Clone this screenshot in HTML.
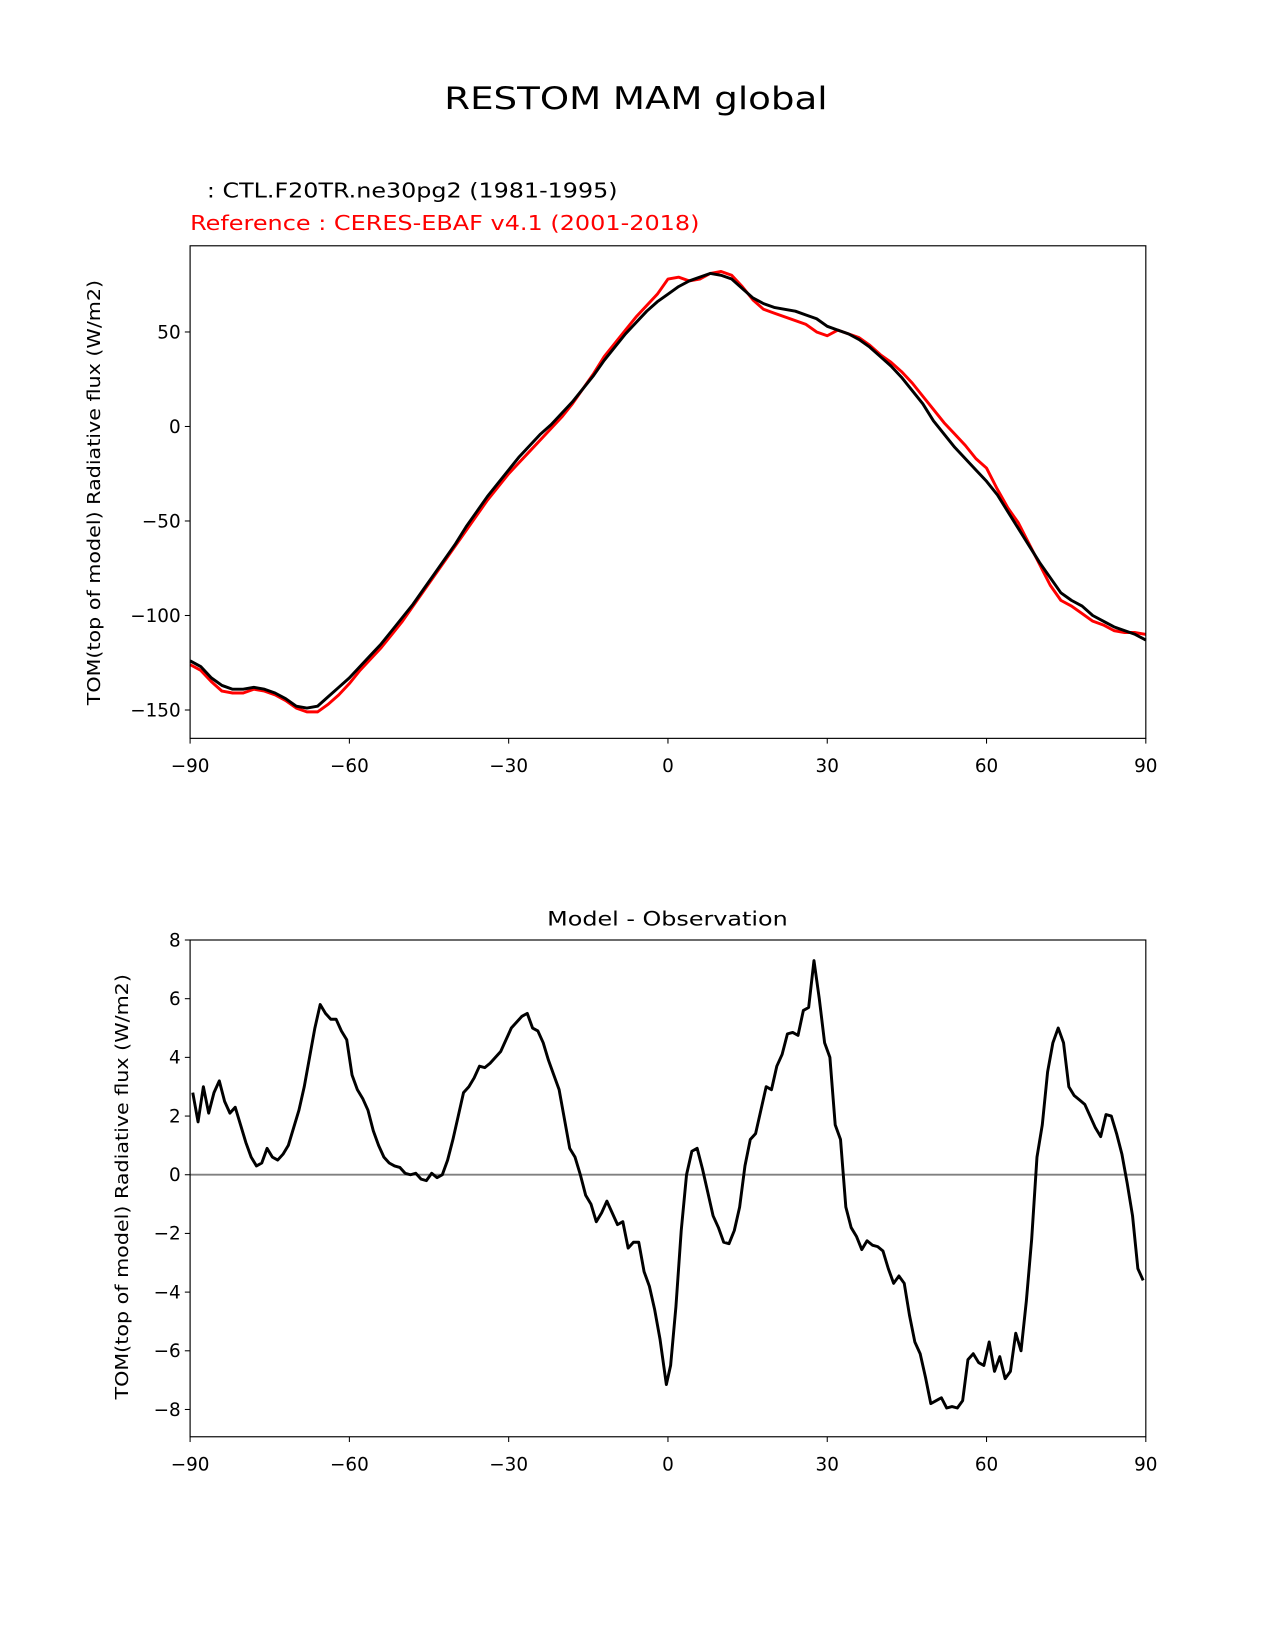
<!DOCTYPE html>
<html><head><meta charset="utf-8"><style>
html,body{margin:0;padding:0;background:#fff}
svg{display:block;font-family:"DejaVu Sans","Liberation Sans",sans-serif}
</style></head><body>
<svg id="fig" width="1275" height="1650" viewBox="0 0 1214 1571" xmlns="http://www.w3.org/2000/svg">
<rect width="1214" height="1571" fill="#fff"/>
<text x="423" y="104" font-size="30" textLength="365" lengthAdjust="spacingAndGlyphs">RESTOM MAM global</text>
<text x="197" y="188" font-size="19.5" textLength="391" lengthAdjust="spacingAndGlyphs">: CTL.F20TR.ne30pg2 (1981-1995)</text>
<text x="181" y="219" font-size="19.5" fill="#ff0000" textLength="485" lengthAdjust="spacingAndGlyphs">Reference : CERES-EBAF v4.1 (2001-2018)</text>
<text transform="translate(95,469) rotate(-90)" font-size="16.5" text-anchor="middle" textLength="405" lengthAdjust="spacingAndGlyphs">TOM(top of model) Radiative flux (W/m2)</text>
<text x="521" y="881" font-size="19" textLength="229" lengthAdjust="spacingAndGlyphs">Model - Observation</text>
<text transform="translate(122,1130) rotate(-90)" font-size="16.5" text-anchor="middle" textLength="405" lengthAdjust="spacingAndGlyphs">TOM(top of model) Radiative flux (W/m2)</text>
<g id="top"></g>
<g id="bot"></g>
</svg>
<script>
const topLat = [-90,-88,-86,-84,-82,-80,-78,-76,-74,-72,-70,-68,-66,-64,-62,-60,-58,-56,-54,-52,-50,-48,-46,-44,-42,-40,-38,-36,-34,-32,-30,-28,-26,-24,-22,-20,-18,-16,-14,-12,-10,-8,-6,-4,-2,0,2,4,6,8,10,12,14,16,18,20,22,24,26,28,30,32,34,36,38,40,42,44,46,48,50,52,54,56,58,60,62,64,66,68,70,72,74,76,78,80,82,84,86,88,90];
const modelVals = [-124,-127,-133,-137,-139,-139,-138,-139,-141,-144,-148,-149,-148,-143,-138,-133,-127,-121,-115,-108,-101,-94,-86,-78,-70,-62,-53,-45,-37,-30,-23,-16,-10,-4,1,7,13,20,27,35,42,49,55,61,66,70,74,77,79,81,80,78,73,68,65,63,62,61,59,57,53,51,49,46,42,37,32,26,19,12,3,-4,-11,-17,-23,-29,-36,-45,-54,-63,-72,-80,-88,-92,-95,-100,-103,-106,-108,-110,-113];
const obsVals = [-126,-129,-135,-140,-141,-141,-139,-140,-142,-145,-149,-151,-151,-147,-142,-136,-129,-123,-117,-110,-103,-95,-87,-79,-71,-63,-55,-47,-39,-32,-25,-19,-13,-7,-1,5,12,20,28,37,44,51,58,64,70,78,79,77,78,81,82,80,74,67,62,60,58,56,54,50,48,51,49,47,43,38,34,29,23,16,9,2,-4,-10,-17,-22,-33,-43,-51,-62,-73,-84,-92,-95,-99,-103,-105,-108,-109,-109,-110];
const topYTicks = [50,0,-50,-100,-150];
const topYLabels = ["50","0","\u221250","\u2212100","\u2212150"];
const xTicks = [-90,-60,-30,0,30,60,90];
const xLabels = ["\u221290","\u221260","\u221230","0","30","60","90"];
const diffLat = [-89.5,-88.5,-87.5,-86.5,-85.5,-84.5,-83.5,-82.5,-81.5,-80.5,-79.5,-78.5,-77.5,-76.5,-75.5,-74.5,-73.5,-72.5,-71.5,-70.5,-69.5,-68.5,-67.5,-66.5,-65.5,-64.5,-63.5,-62.5,-61.5,-60.5,-59.5,-58.5,-57.5,-56.5,-55.5,-54.5,-53.5,-52.5,-51.5,-50.5,-49.5,-48.5,-47.5,-46.5,-45.5,-44.5,-43.5,-42.5,-41.5,-40.5,-39.5,-38.5,-37.5,-36.5,-35.5,-34.5,-33.5,-32.5,-31.5,-30.5,-29.5,-28.5,-27.5,-26.5,-25.5,-24.5,-23.5,-22.5,-21.5,-20.5,-19.5,-18.5,-17.5,-16.5,-15.5,-14.5,-13.5,-12.5,-11.5,-10.5,-9.5,-8.5,-7.5,-6.5,-5.5,-4.5,-3.5,-2.5,-1.5,-0.3,0.5,1.5,2.5,3.5,4.5,5.5,6.5,7.5,8.5,9.5,10.5,11.5,12.5,13.5,14.5,15.5,16.5,17.5,18.5,19.5,20.5,21.5,22.5,23.5,24.5,25.5,26.5,27.5,28.5,29.5,30.5,31.5,32.5,33.5,34.5,35.5,36.5,37.5,38.5,39.5,40.5,41.5,42.5,43.5,44.5,45.5,46.5,47.5,48.5,49.5,50.5,51.5,52.5,53.5,54.5,55.5,56.5,57.5,58.5,59.5,60.5,61.5,62.5,63.5,64.5,65.5,66.5,67.5,68.5,69.5,70.5,71.5,72.5,73.5,74.5,75.5,76.5,77.5,78.5,79.5,80.5,81.5,82.5,83.5,84.5,85.5,86.5,87.5,88.5,89.5];
const diffVals = [2.8,1.8,3.0,2.1,2.8,3.2,2.5,2.1,2.3,1.7,1.1,0.6,0.3,0.4,0.9,0.6,0.5,0.7,1.0,1.6,2.2,3.0,4.0,5.0,5.8,5.5,5.3,5.3,4.9,4.6,3.4,2.9,2.6,2.2,1.5,1.0,0.6,0.4,0.3,0.25,0.05,0.0,0.05,-0.15,-0.2,0.05,-0.1,0.0,0.5,1.2,2.0,2.8,3.0,3.3,3.7,3.65,3.8,4.0,4.2,4.6,5.0,5.2,5.4,5.5,5.0,4.9,4.5,3.9,3.4,2.9,1.9,0.9,0.6,0.0,-0.7,-1.0,-1.6,-1.3,-0.9,-1.3,-1.7,-1.6,-2.5,-2.3,-2.3,-3.3,-3.8,-4.6,-5.6,-7.15,-6.5,-4.5,-1.9,0.0,0.8,0.9,0.2,-0.6,-1.4,-1.8,-2.3,-2.35,-1.9,-1.1,0.3,1.2,1.4,2.2,3.0,2.9,3.7,4.1,4.8,4.85,4.75,5.6,5.7,7.3,6.0,4.5,4.0,1.7,1.2,-1.1,-1.8,-2.1,-2.55,-2.25,-2.4,-2.45,-2.6,-3.2,-3.7,-3.45,-3.7,-4.8,-5.7,-6.1,-6.9,-7.8,-7.7,-7.6,-7.95,-7.9,-7.95,-7.7,-6.3,-6.1,-6.4,-6.5,-5.7,-6.7,-6.2,-6.95,-6.7,-5.4,-6.0,-4.3,-2.2,0.6,1.7,3.5,4.5,5.0,4.5,3.0,2.7,2.55,2.4,2.0,1.6,1.3,2.05,2.0,1.4,0.7,-0.3,-1.4,-3.2,-3.6];
const botYTicks = [8,6,4,2,0,-2,-4,-6,-8];
const botYLabels = ["8","6","4","2","0","\u22122","\u22124","\u22126","\u22128"];

const NS = "http://www.w3.org/2000/svg";
function mk(parent, tag, attrs) {
  const e = document.createElementNS(NS, tag);
  for (const k in attrs) e.setAttribute(k, attrs[k]);
  parent.appendChild(e);
  return e;
}
const L = 181, R = 1091;
function xs(v) { return L + (v + 90) / 180 * (R - L); }

function axes(g, top, bottom, ymin, ymax, yt, ytl) {
  const ys = v => bottom - (v - ymin) / (ymax - ymin) * (bottom - top);
  xTicks.forEach((t, i) => {
    const tk = mk(g, "line", {x1: xs(t), x2: xs(t), y1: bottom, y2: bottom + 5, stroke: "#000", "stroke-width": 1});
    
    
    const tx = mk(g, "text", {x: xs(t), y: bottom + 32, "font-size": 17.5, "text-anchor": "middle"});
    
    
    tx.textContent = xLabels[i];
  });
  yt.forEach((t, i) => {
    const tk = mk(g, "line", {x1: L - 5, x2: L, y1: ys(t), y2: ys(t), stroke: "#000", "stroke-width": 1});
    
    
    const tx = mk(g, "text", {x: L - 9, y: ys(t) + 6, "font-size": 17.5, "text-anchor": "end"});
    
    
    tx.textContent = ytl[i];
  });
  return ys;
}
function line(g, lat, vals, ys, color, name, w) {
  const d = lat.map((x, i) => (i ? "L" : "M") + xs(x).toFixed(2) + "," + ys(vals[i]).toFixed(2)).join("");
  const p = mk(g, "path", {d: d, fill: "none", stroke: color, "stroke-width": w, "stroke-linejoin": "round"});
  
  
  return p;
}
function frame(g, top, bottom) {
  const r = mk(g, "rect", {x: L, y: top, width: R - L, height: bottom - top, fill: "none", stroke: "#000", "stroke-width": 1.1});
  
  
}

const gt = document.getElementById("top");
const ysT = axes(gt, 234, 703, -165, 95.6, topYTicks, topYLabels);
line(gt, topLat, obsVals, ysT, "#ff0000", "reference-line", 2.8);
line(gt, topLat, modelVals, ysT, "#000", "model-line", 2.8);
frame(gt, 234, 703);

const gb = document.getElementById("bot");
const ysB = axes(gb, 895, 1368, -8.93, 8, botYTicks, botYLabels);
const zl = mk(gb, "line", {x1: L, x2: R, y1: ysB(0), y2: ysB(0), stroke: "#808080", "stroke-width": 1.8});


line(gb, diffLat, diffVals, ysB, "#000", "difference-line", 2.8);
frame(gb, 895, 1368);
</script>
</body></html>
